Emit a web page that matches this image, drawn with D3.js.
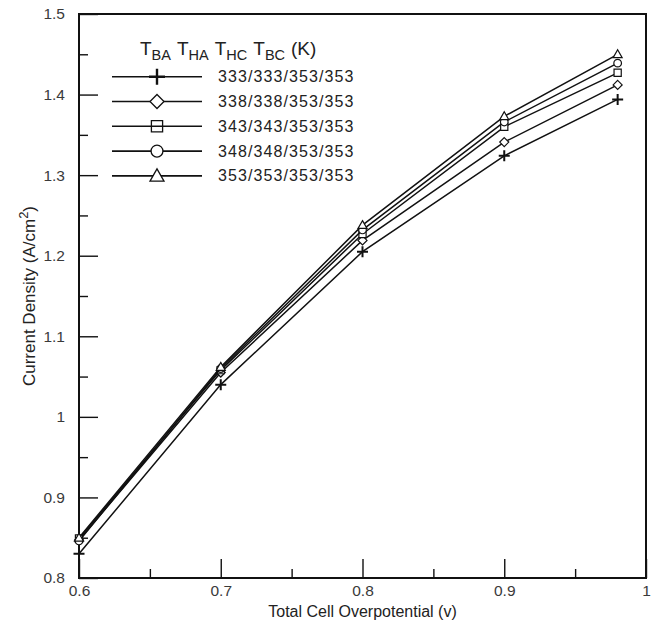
<!DOCTYPE html>
<html>
<head>
<meta charset="utf-8">
<script src="https://cdn.jsdelivr.net/npm/d3@7"></script>
<style>
  body { margin: 0; background: #fff; }
  text { font-family: "Liberation Sans", Arial, sans-serif; }
</style>
</head>
<body>
<svg id="grafico"></svg>
<script>
// valores
const sobrepotencial = [0.6, 0.7, 0.8, 0.9, 0.98];
const serie333 = [0.830, 1.040, 1.205, 1.324, 1.394];
const serie338 = [0.847, 1.055, 1.219, 1.341, 1.412];
const serie343 = [0.849, 1.058, 1.227, 1.360, 1.427];
const serie348 = [0.846, 1.060, 1.232, 1.366, 1.439];
const serie353 = [0.850, 1.062, 1.238, 1.373, 1.450];
const nomesSeries = ['333/333/353/353', '338/338/353/353', '343/343/353/353', '348/348/353/353', '353/353/353/353'];
const marcadores = ['mais', 'losango', 'quadrado', 'circulo', 'triangulo'];
const subscritos = ['BA', 'HA', 'HC', 'BC'];
const ticksX = [0.6, 0.7, 0.8, 0.9, 1];
const ticksY = [0.8, 0.9, 1, 1.1, 1.2, 1.3, 1.4, 1.5];
const ticksMenoresX = [0.65, 0.75, 0.85, 0.95];
const ticksMenoresY = [0.85, 0.95, 1.05, 1.15, 1.25, 1.35, 1.45];

const series = [serie333, serie338, serie343, serie348, serie353].map((valores, i) => ({
  nome: nomesSeries[i],
  marcador: marcadores[i],
  pontos: valores.map((v, j) => ({ x: sobrepotencial[j], y: v }))
}));

const largura = 653, altura = 628;
const margem = { esquerda: 79, direita: 7, superior: 14, inferior: 50 };
const larguraPlotagem = largura - margem.esquerda - margem.direita;
const alturaPlotagem = altura - margem.superior - margem.inferior;

const svg = d3.select('#grafico').attr('width', largura).attr('height', altura);
const plotagem = svg.append('g').attr('transform', `translate(${margem.esquerda}, ${margem.superior})`);

const x = d3.scaleLinear().domain([0.6, 1]).range([0, larguraPlotagem]);
const y = d3.scaleLinear().domain([0.8, 1.5]).range([alturaPlotagem, 0]);

// desenha o marcador em (0,0) com tamanho r
function caminhoMarcador(tipo, r) {
  const p = d3.path();
  if (tipo === 'mais') {
    p.moveTo(-r, 0); p.lineTo(r, 0); p.moveTo(0, -r); p.lineTo(0, r);
  } else if (tipo === 'losango') {
    p.moveTo(0, -r); p.lineTo(r, 0); p.lineTo(0, r); p.lineTo(-r, 0); p.closePath();
  } else if (tipo === 'quadrado') {
    const s = r * 0.8;
    p.rect(-s, -s, 2 * s, 2 * s);
  } else if (tipo === 'circulo') {
    p.moveTo(r * 0.85, 0); p.arc(0, 0, r * 0.85, 0, 2 * Math.PI);
  } else {
    p.moveTo(0, -r); p.lineTo(r, r * 0.75); p.lineTo(-r, r * 0.75); p.closePath();
  }
  return p.toString();
}

// eixos com ticks para dentro
const formato = d => String(+d.toFixed(1));
const eixoX = d3.axisBottom(x).tickValues(ticksX).tickSize(-19).tickPadding(7).tickFormat(formato);
const eixoXMenor = d3.axisBottom(x).tickValues(ticksMenoresX).tickSize(-9).tickFormat('');
const eixoY = d3.axisLeft(y).tickValues(ticksY).tickSize(-19).tickPadding(14).tickFormat(formato);
const eixoYMenor = d3.axisLeft(y).tickValues(ticksMenoresY).tickSize(-9).tickFormat('');

plotagem.append('g').attr('id', 'eixoX').attr('transform', 'translate(0, ' + alturaPlotagem + ')').call(eixoX);
plotagem.append('g').attr('id', 'eixoXMenor').attr('transform', 'translate(0, ' + alturaPlotagem + ')').call(eixoXMenor);
plotagem.append('g').attr('id', 'eixoY').call(eixoY);
plotagem.append('g').attr('id', 'eixoYMenor').call(eixoYMenor);

plotagem.selectAll('.domain').remove();
plotagem.selectAll('.tick line').attr('stroke', '#111').attr('stroke-width', 1.4);
plotagem.selectAll('.tick text')
  .attr('fill', '#3a3a3a')
  .style('font-size', '15.5px')
  .style('font-family', '"Liberation Sans", Arial, sans-serif');

plotagem.append('rect')
  .attr('x', 0).attr('y', 0)
  .attr('width', larguraPlotagem).attr('height', alturaPlotagem)
  .attr('fill', 'none').attr('stroke', '#111').attr('stroke-width', 2);

const linha = d3.line().x(d => x(d.x)).y(d => y(d.y));

const grupos = plotagem.selectAll('.serie')
  .data(series)
  .enter()
  .append('g')
  .classed('serie', true);

grupos.append('path')
  .attr('d', d => linha(d.pontos))
  .attr('fill', 'none')
  .attr('stroke', '#111')
  .attr('stroke-width', 1.5);

grupos.selectAll('.ponto')
  .data(d => d.pontos.map(p => ({ ...p, marcador: d.marcador })))
  .enter()
  .append('path')
  .classed('ponto', true)
  .attr('transform', d => `translate(${x(d.x)}, ${y(d.y)})`)
  .attr('d', d => caminhoMarcador(d.marcador, d.marcador === 'mais' ? 5.5 : 4.5))
  .attr('fill', d => d.marcador === 'mais' ? 'none' : '#fff')
  .attr('stroke', '#111')
  .attr('stroke-width', d => d.marcador === 'mais' ? 2 : 1.2);

// legenda
const legenda = svg.append('g').attr('transform', 'translate(112, 0)');

const titulo = legenda.append('text')
  .attr('x', 28)
  .attr('y', 55)
  .attr('fill', '#222')
  .style('font-size', '19px');
subscritos.forEach((sub, i) => {
  titulo.append('tspan').attr('dx', i === 0 ? 0 : 6).attr('dy', i === 0 ? 0 : -5).text('T');
  titulo.append('tspan').attr('dy', 5).style('font-size', '14.5px').text(sub);
});
titulo.append('tspan').attr('dx', 6).attr('dy', -5).text('(K)');

const itens = legenda.selectAll('.item')
  .data(series)
  .enter()
  .append('g')
  .classed('item', true)
  .attr('transform', (d, i) => `translate(0, ${76.7 + i * 24.8})`);

itens.append('line')
  .attr('x1', 0).attr('x2', 90)
  .attr('stroke', '#111').attr('stroke-width', 1.6);

itens.append('path')
  .attr('transform', 'translate(45, 0)')
  .attr('d', d => caminhoMarcador(d.marcador, d.marcador === 'mais' ? 8 : 7))
  .attr('fill', d => d.marcador === 'mais' || d.marcador === 'quadrado' ? 'none' : '#fff')
  .attr('stroke', '#111')
  .attr('stroke-width', d => d.marcador === 'mais' ? 2.4 : 1.3);

itens.append('text')
  .attr('x', 106)
  .attr('y', 5.5)
  .attr('fill', '#222')
  .style('font-size', '16px')
  .style('letter-spacing', '1.1px')
  .text(d => d.nome);

// titulos dos eixos
svg.append('text')
  .attr('fill', '#222')
  .style('font-size', '16px')
  .style('text-anchor', 'middle')
  .attr('transform', 'translate(' + (margem.esquerda + larguraPlotagem / 2) + ', ' + 617 + ')')
  .text('Total Cell Overpotential (v)');

const tituloY = svg.append('text')
  .attr('fill', '#222')
  .style('font-size', '17px')
  .style('text-anchor', 'middle')
  .attr('transform', 'translate(35, ' + 296 + ') rotate(-90)');
tituloY.append('tspan').text('Current Density (A/cm');
tituloY.append('tspan').attr('dy', -7).style('font-size', '13px').text('2');
tituloY.append('tspan').attr('dy', 7).text(')');
</script>
</body>
</html>
